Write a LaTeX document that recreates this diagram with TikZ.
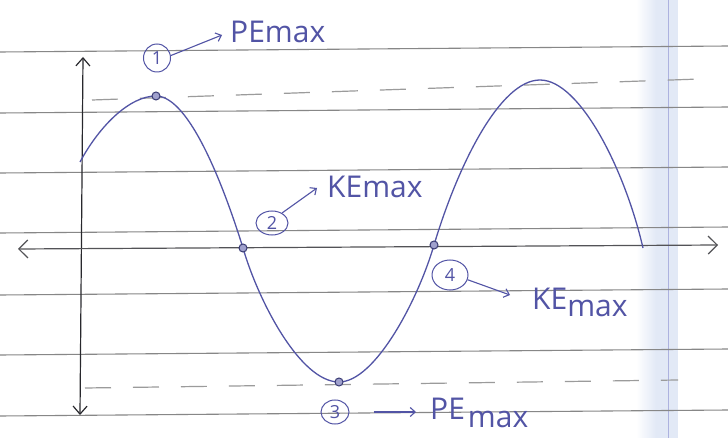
\documentclass[tikz,border=0pt]{standalone}
\usepackage{fontspec}
\setmainfont{Open Sans}
\usetikzlibrary{arrows.meta,shapes.geometric}
\definecolor{ink}{RGB}{82,84,165}
\definecolor{rulegray}{RGB}{135,135,135}
\definecolor{pencil}{RGB}{40,40,45}
\definecolor{dashgray}{RGB}{155,155,155}
\definecolor{band}{RGB}{226,233,246}
\begin{document}
\begin{tikzpicture}[x=1pt,y=-1pt,
  ruleline/.style={draw=rulegray, line width=1.1pt},
  axisline/.style={draw=pencil, line width=1.2pt},
  guide/.style={draw=dashgray, line width=1.2pt, dash pattern=on 26pt off 22pt},
  wave/.style={draw=ink, line width=1.3pt},
  dotpt/.style={circle, draw=ink!70!black, fill=ink!55, line width=1pt, minimum size=8pt, inner sep=0pt},
  numlabel/.style={ellipse, draw=ink, line width=1pt, text=ink, font=\fontsize{18}{18}\selectfont, inner sep=0pt},
  elabel/.style={text=ink, font=\fontsize{30}{30}\selectfont, inner sep=0pt, anchor=base west},
  inkarrow/.style={draw=ink, line width=1.1pt, -{Straight Barb[length=5pt,width=9pt]}}
]
\useasboundingbox (0,0) rectangle (728,438);
\fill[white] (0,0) rectangle (728,438);
% paper binding band
\shade[left color=white, right color=band] (636,0) rectangle (656,438);
\fill[band] (656,0) rectangle (678,438);
\draw[band!85!blue!90!black, line width=0.8pt] (668,0) -- (668,438);
% ruled lines
\foreach \yy in {52,113,173,233,295,355,416}
  \draw[ruleline] (0,\yy) -- (728,\yy-6);
% guide lines
\draw[guide] (92,100) -- (700,79);
\draw[guide] (85,388) -- (678,380);
% axes
\coordinate (ytop) at (83,57);
\coordinate (ybot) at (80,415);
\coordinate (xl) at (18,249);
\coordinate (xr) at (718,245);
\draw[axisline, {Straight Barb[length=8pt,width=14pt]}-{Straight Barb[length=8pt,width=14pt]}] (ytop) -- (ybot);
\draw[axisline, draw=pencil!80, {Straight Barb[length=9pt,width=18pt]}-{Straight Barb[length=9pt,width=18pt]}] (xl) -- (xr);
% points
\coordinate (p1) at (156,96);
\coordinate (p2) at (243,248);
\coordinate (p3) at (339,382);
\coordinate (p4) at (434,245);
\coordinate (w0) at (80,162);
\coordinate (pk) at (540,80);
\coordinate (w9) at (643,248);
% wave
\draw[wave] (w0) .. controls (100,125) and (130,96) .. (p1)
  .. controls (190,96) and (225,190) .. (p2)
  .. controls (258,300) and (300,382) .. (p3)
  .. controls (375,382) and (418,300) .. (p4)
  .. controls (458,165) and (500,80) .. (pk)
  .. controls (580,80) and (625,170) .. (w9);
\node[dotpt] (d1) at (p1) {};
\node[dotpt] (d2) at (p2) {};
\node[dotpt] (d3) at (p3) {};
\node[dotpt] (d4) at (p4) {};
% circled numbers
\node[numlabel, minimum width=27pt, minimum height=28pt] (n1) at (157,58) {1};
\node[numlabel, minimum width=32pt, minimum height=24pt] (n2) at (272,223) {2};
\node[numlabel, minimum width=28pt, minimum height=24pt] (n3) at (335,412) {3};
\node[numlabel, minimum width=36pt, minimum height=30pt] (n4) at (450,275) {4};
% energy labels
\node[elabel] (t1) at (230,43) {PEmax};
\node[elabel] (t2) at (327,198) {KEmax};
\node[elabel] (t3) at (430,419) {PE\hspace{3pt}\raisebox{-8pt}{max}};
\node[elabel] (t4) at (532,309) {KE\raisebox{-7pt}{max}};
% arrows
\draw[inkarrow] (n1.10) -- ([shift={(-8,-8)}]t1.base west);
\draw[inkarrow] (n2.45) -- ([shift={(-10,-10)}]t2.base west);
\draw[inkarrow, shorten <=24pt] (n3.east) -- ([shift={(-14,-7)}]t3.base west);
\draw[inkarrow] (n4.-15) -- ([shift={(-22,-14)}]t4.base west);
\end{tikzpicture}
\end{document}
